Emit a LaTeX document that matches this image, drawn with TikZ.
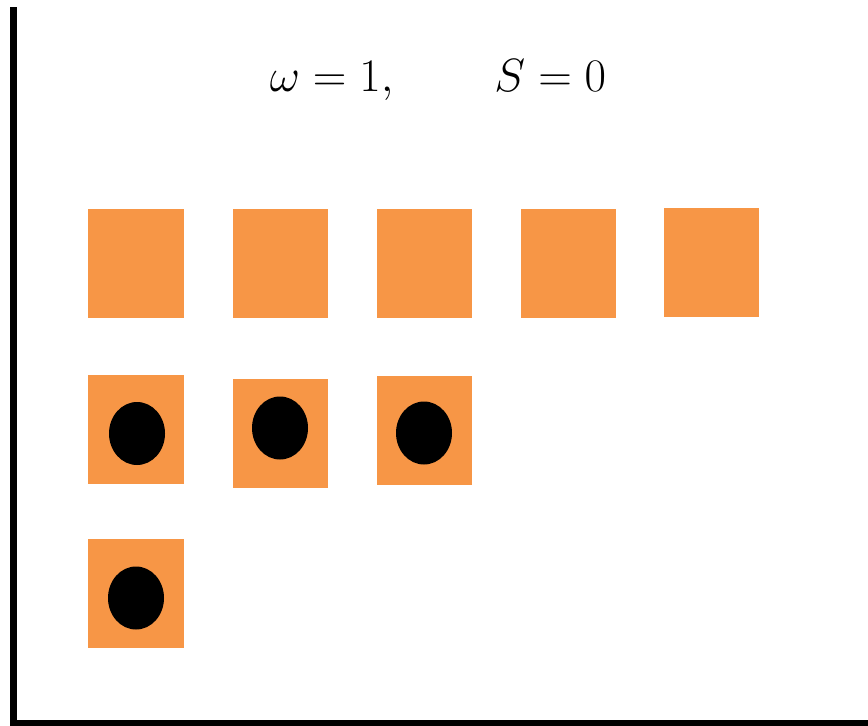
\documentclass[tikz,border=0pt]{standalone}
\usepackage{amsmath}
\usepackage{xcolor}
\usetikzlibrary{positioning, shapes.geometric}
\definecolor{cellorange}{HTML}{F79646}

\begin{document}
\begin{tikzpicture}[
    x=0.03cm, y=-0.03cm,
    cell/.style={rectangle, draw=none, fill=cellorange, minimum width=2.85cm,
                 minimum height=3.27cm, inner sep=0pt},
    dot/.style={ellipse, draw=none, fill=black, minimum width=1.68cm,
                minimum height=1.89cm, inner sep=0pt},
    axis/.style={line width=0.21cm, black}
]
\useasboundingbox (0,0) rectangle (868,725);

% --- Title ---
\node[font=\Huge, scale=1.6, transform shape] (title) at (438,80)
    {$\omega = 1, \qquad S = 0$};

% --- Row 1 ---
\node[cell] (c11) at (136,263.5) {};
\node[cell] (c12) at (280,263.5) {};
\node[cell] (c13) at (424,263.5) {};
\node[cell] (c14) at (568,263.5) {};
\node[cell] (c15) at (711.5,262) {};

% --- Row 2 ---
\node[cell] (c21) at (136,429.5) {};
\node[cell] (c22) at (280.5,433) {};
\node[cell] (c23) at (424,430) {};

% --- Row 3 ---
\node[cell] (c31) at (136,593.5) {};

% --- Particles ---
\node[dot] (d21) at (137,433.5) {};
\node[dot] (d22) at (280,428) {};
\node[dot] (d23) at (424,433) {};
\node[dot] (d31) at (136,598) {};

% --- Axes ---
\coordinate (top) at (13.5,7);
\coordinate (corner) at (13.5,723);
\coordinate (right) at (868,723);
\draw[axis] (top) -- (corner) -- (right);

\end{tikzpicture}
\end{document}
